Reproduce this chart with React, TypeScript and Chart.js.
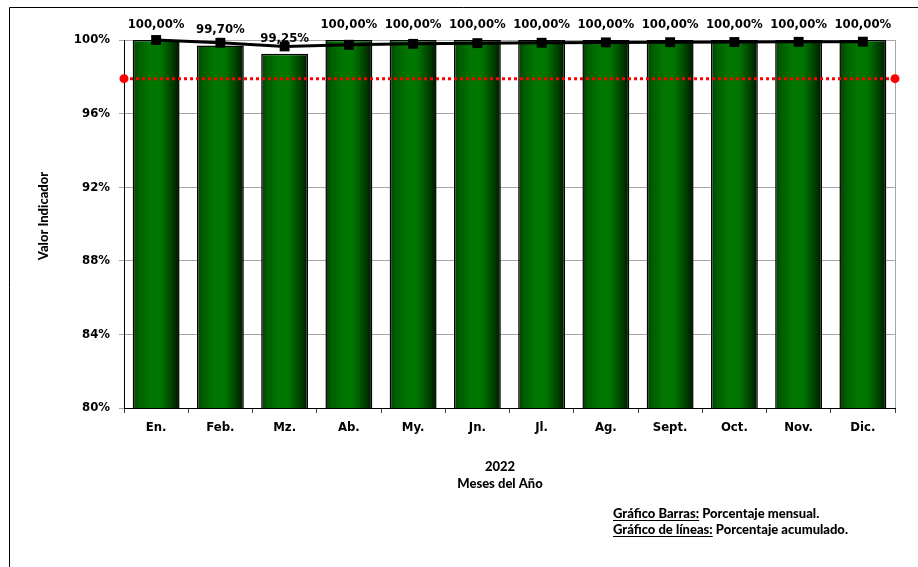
import React, { useEffect, useRef } from "react";
import { Chart, registerables } from "chart.js";

Chart.register(...registerables);

const months = ["En.", "Feb.", "Mz.", "Ab.", "My.", "Jn.", "Jl.", "Ag.", "Sept.", "Oct.", "Nov.", "Dic."];
const monthlyPct = [100, 99.7, 99.25, 100, 100, 100, 100, 100, 100, 100, 100, 100];
const cumulativePct = [100, 99.85, 99.65, 99.74, 99.79, 99.83, 99.85, 99.87, 99.88, 99.89, 99.9, 99.91];
const metaPct = [97.9, 97.9];
const metaX = [0, 1];
const yMin = 80;
const yMax = 100;
const yStep = 4;
const xTitleLines = ["2022", "Meses del Año"];
const yTitle = "Valor Indicador";
const legendLines = [
  ["Gráfico Barras:", " Porcentaje mensual."],
  ["Gráfico de líneas:", " Porcentaje acumulado."],
];

const BAR_PCT = 0.73;
const TICK_FAMILY = "'DejaVu Sans Condensed', 'DejaVu Sans'";
const TICK_FONT = "bold 13px " + TICK_FAMILY;
const TITLE_FONT = "900 13px Lato";
const LEGEND_FONT = "900 13px Lato";

function barGradient(ctx: any) {
  const chart = ctx.chart;
  const fallback = "#007000";
  if (!chart.chartArea || !chart.scales || !chart.scales.x) return fallback;
  const xs = chart.scales.x;
  const cx = xs.getPixelForValue(ctx.dataIndex);
  const w = (xs.width / months.length) * BAR_PCT;
  const g = chart.ctx.createLinearGradient(cx - w / 2, 0, cx + w / 2, 0);
  g.addColorStop(0, "#0a3a0a");
  g.addColorStop(0.12, "#005c00");
  g.addColorStop(0.38, "#007800");
  g.addColorStop(0.6, "#007400");
  g.addColorStop(0.84, "#004000");
  g.addColorStop(1, "#001400");
  return g;
}

const decorPlugin = {
  id: "decor",
  beforeDraw(chart: any) {
    const c = chart.ctx;
    c.save();
    c.fillStyle = "#ffffff";
    c.fillRect(0, 0, chart.width, chart.height);
    c.strokeStyle = "#000000";
    c.lineWidth = 1;
    c.beginPath();
    c.moveTo(9.5, chart.height);
    c.lineTo(9.5, 7.5);
    c.lineTo(chart.width, 7.5);
    c.stroke();
    c.restore();
  },
  beforeDatasetsDraw(chart: any) {
    const c = chart.ctx;
    const a = chart.chartArea;
    c.save();
    c.strokeStyle = "#a6a6a6";
    c.lineWidth = 1;
    c.beginPath();
    c.moveTo(Math.round(a.right) + 0.5, a.top);
    c.lineTo(Math.round(a.right) + 0.5, a.bottom);
    c.stroke();
    c.restore();
  },
  afterDatasetsDraw(chart: any) {
    const c = chart.ctx;
    const idx = chart.data.datasets.findIndex((d: any) => d.type === "bar");
    const meta = chart.getDatasetMeta(idx);
    c.save();
    c.font = TICK_FONT;
    c.fillStyle = "#000000";
    c.textAlign = "center";
    c.textBaseline = "middle";
    meta.data.forEach((el: any, i: number) => {
      const txt = monthlyPct[i].toFixed(2).replace(".", ",") + "%";
      c.fillText(txt, el.x, el.y - 15.5);
    });
    c.restore();
  },
  afterDraw(chart: any) {
    const c = chart.ctx;
    c.save();
    c.fillStyle = "#000000";
    c.font = TITLE_FONT;
    c.textAlign = "center";
    c.textBaseline = "middle";
    c.save();
    c.translate(44, 216);
    c.rotate(-Math.PI / 2);
    c.fillText(yTitle, 0, 0);
    c.restore();
    c.fillText(xTitleLines[0], 500, 467);
    c.fillText(xTitleLines[1], 500, 484);
    c.font = LEGEND_FONT;
    c.textAlign = "left";
    legendLines.forEach((parts, i) => {
      const y = 514 + i * 16;
      const x0 = 613;
      c.fillText(parts[0], x0, y);
      const w0 = c.measureText(parts[0]).width;
      c.fillRect(x0, y + 6, w0, 1);
      c.fillText(parts[1], x0 + w0, y);
    });
    c.restore();
  },
};

export default function App() {
  const ref = useRef<HTMLCanvasElement>(null);
  useEffect(() => {
    if (!ref.current) return;
    const chart = new Chart(ref.current, {
      type: "bar",
      data: {
        labels: months,
        datasets: [
          {
            type: "bar",
            data: monthlyPct,
            backgroundColor: barGradient,
            borderColor: "#000000",
            borderWidth: 1.5,
            borderSkipped: false,
            categoryPercentage: 1,
            barPercentage: BAR_PCT,
            grouped: false,
            order: 3,
          } as any,
          {
            type: "line",
            data: metaX.map((x, i) => ({ x, y: metaPct[i] })),
            xAxisID: "xMeta",
            borderColor: "#ff0000",
            borderWidth: 3,
            borderDash: [3, 3],
            pointRadius: 4.5,
            pointBackgroundColor: "#ff0000",
            pointBorderColor: "#ff0000",
            pointBorderWidth: 0,
            clip: false,
            order: 2,
          } as any,
          {
            type: "line",
            data: cumulativePct,
            xAxisID: "x",
            borderColor: "#000000",
            borderWidth: 3,
            pointStyle: "rect",
            pointRadius: 7,
            pointBackgroundColor: "#000000",
            pointBorderColor: "#000000",
            pointBorderWidth: 0,
            tension: 0,
            clip: false,
            order: 1,
          } as any,
        ],
      },
      options: {
        animation: false,
        responsive: false,
        events: [],
        layout: { padding: { left: 0, top: 40, right: 23, bottom: 119 } },
        plugins: { legend: { display: false }, tooltip: { enabled: false } },
        scales: {
          x: {
            type: "category",
            offset: true,
            grid: {
              display: true,
              drawOnChartArea: false,
              drawTicks: true,
              tickLength: 5,
              color: "#404040",
              offset: true,
            },
            border: { display: true, color: "#000000", width: 1 },
            ticks: {
              font: { family: TICK_FAMILY, weight: "bold", size: 13 },
              color: "#000000",
              padding: 7,
              maxRotation: 0,
              autoSkip: false,
            },
            afterFit: (s: any) => {
              s.height = 40;
            },
          },
          xMeta: {
            type: "linear",
            display: false,
            offset: false,
            min: 0,
            max: 1,
          },
          y: {
            min: yMin,
            max: yMax,
            grid: { color: "#a6a6a6", lineWidth: 1, tickLength: 5 },
            border: { display: true, color: "#000000", width: 1 },
            ticks: {
              stepSize: yStep,
              font: { family: TICK_FAMILY, weight: "bold", size: 13 },
              color: "#000000",
              padding: 9,
              callback: (v: any) => v + "%",
            },
            afterFit: (s: any) => {
              s.width = 124;
            },
          },
        },
      } as any,
      plugins: [decorPlugin],
    });
    return () => chart.destroy();
  }, []);
  return (
    <canvas
      ref={ref}
      width={918}
      height={567}
      style={{ position: "fixed", left: 0, top: 0, width: 918, height: 567 }}
    />
  );
}
